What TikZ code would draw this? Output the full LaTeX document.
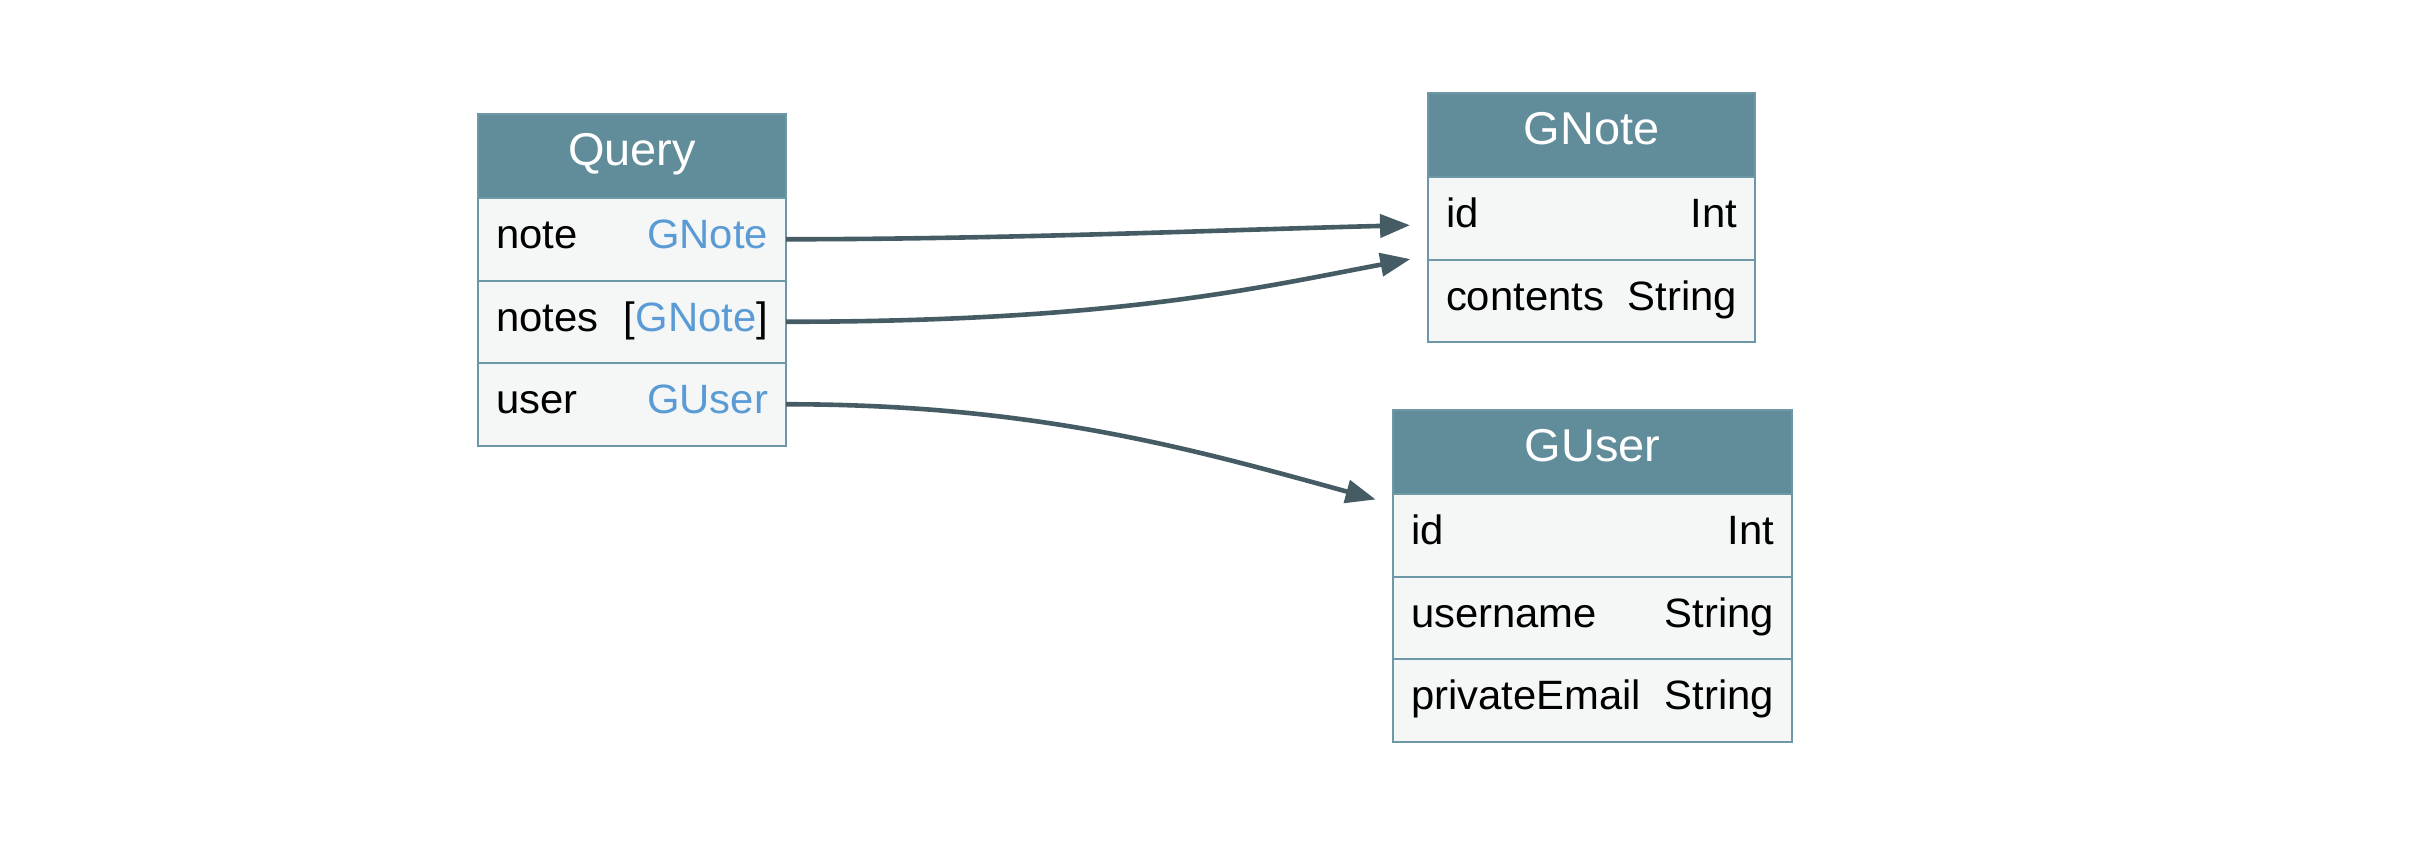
\documentclass[tikz,border=0pt]{standalone}
\usepackage{fontspec}
\setmainfont[FakeStretch=1.02]{Liberation Sans}
\usepackage{xcolor}
\usepackage{tikz}
\usetikzlibrary{positioning,arrows.meta}
\definecolor{hdcol}{HTML}{618D9B}
\definecolor{rowcol}{HTML}{F5F7F7}
\definecolor{bdcol}{HTML}{6F98A6}
\definecolor{linkcol}{HTML}{5A9BD5}
\definecolor{edgecol}{HTML}{455C65}
\tikzstyle{box}=[draw=bdcol,line width=1pt,outer sep=0pt,inner xsep=9pt,text height=14.5pt,text depth=5pt,font=\fontsize{20.5pt}{24pt}\selectfont]
\tikzstyle{head}=[box,fill=hdcol,text=white,minimum height=42pt,align=center,font=\fontsize{23pt}{26pt}\selectfont]
\tikzstyle{row}=[box,fill=rowcol,minimum height=41.25pt]
\tikzstyle{link}=[edgecol,line width=2.3pt,-{Triangle[length=15pt,width=11.5pt]},shorten >=9pt]
\newcommand{\ty}[1]{\textcolor{linkcol}{#1}}

\begin{document}
\begin{tikzpicture}[x=0.5pt,y=-0.5pt]
  \useasboundingbox (0,0) rectangle (2436,842);
  % Query
  \node[head,text width=136pt,anchor=north west] (query) at (478,114) {Query};
  \node[row,text width=136pt,below=0pt of query] (note) {note\hfill\ty{GNote}};
  \node[row,text width=136pt,below=0pt of note] (notes) {notes\hfill[\ty{GNote}]};
  \node[row,text width=136pt,below=0pt of notes] (user) {user\hfill\ty{GUser}};
  % GNote
  \node[head,text width=145.5pt,anchor=north west] (gnote) at (1428,93) {GNote};
  \node[row,text width=145.5pt,below=0pt of gnote] (gnid) {id\hfill Int};
  \node[row,text width=145.5pt,below=0pt of gnid] (contents) {contents\hfill String};
  % GUser
  \node[head,text width=181.5pt,anchor=north west] (guser) at (1393,410) {GUser};
  \node[row,text width=181.5pt,below=0pt of guser] (guid) {id\hfill Int};
  \node[row,text width=181.5pt,below=0pt of guid] (username) {username\hfill String};
  \node[row,text width=181.5pt,below=0pt of username] (email) {privateEmail\hfill String};
  % links
  \draw[link] (note.east) .. controls +(220,0) and +(-200,5) .. ([yshift=-3.25pt]gnid.west);
  \draw[link] (notes.east) .. controls +(330,0) and +(-170,32) .. ([yshift=-18.75pt]gnid.west);
  \draw[link] (user.east) .. controls +(250,0) and +(-200,-55) .. ([yshift=15.5pt]guid.west);
\end{tikzpicture}
\end{document}
